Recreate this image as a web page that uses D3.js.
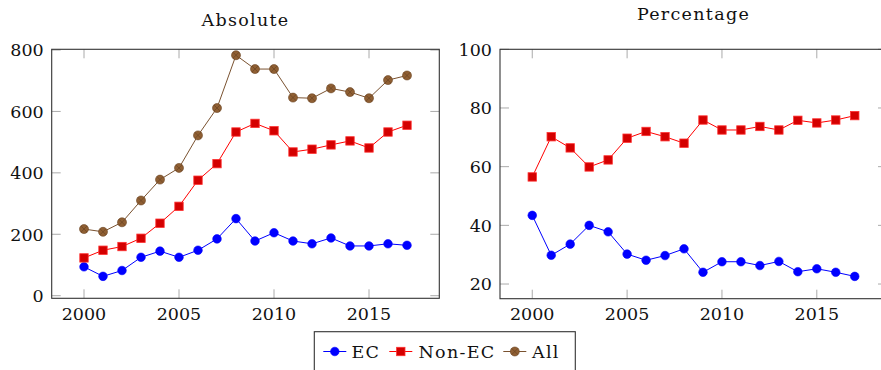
<!DOCTYPE html>
<html>
<head>
<meta charset="utf-8">
<script src="https://cdn.jsdelivr.net/npm/d3@7"></script>
<style>
  body { margin: 0; background: #fff; }
  svg text { font-family: "DejaVu Serif", serif; fill: #111; }
  svg text.word { letter-spacing: 1.3px; }
</style>
</head>
<body>
<div id="chart"></div>
<script>
// data
const years = d3.range(2000, 2018);
const ecAbs = [94, 63, 82, 125, 145, 125, 148, 185, 251, 178, 205, 178, 169, 188, 162, 162, 169, 164];
const nonEcAbs = [123, 148, 160, 187, 236, 291, 376, 430, 533, 561, 537, 468, 477, 491, 504, 481, 533, 555];
const allAbs = [217, 208, 239, 310, 378, 416, 522, 611, 783, 738, 738, 645, 643, 675, 663, 643, 702, 717];
const ecPct = [43.4, 29.8, 33.6, 40.0, 37.8, 30.2, 28.1, 29.7, 32.0, 24.0, 27.6, 27.6, 26.3, 27.7, 24.2, 25.2, 24.0, 22.6];
const nonEcPct = [56.5, 70.2, 66.4, 59.9, 62.3, 69.7, 72.0, 70.2, 68.0, 75.9, 72.5, 72.5, 73.7, 72.5, 75.8, 74.9, 75.9, 77.4];
const xTicks = [2000, 2005, 2010, 2015];
const absTicks = [0, 200, 400, 600, 800];
const pctTicks = [20, 40, 60, 80, 100];

const styles = {
  ec: { line: "#0000ff", fill: "#0000ff", stroke: "#0000ff", mark: "circle" },
  nonEc: { line: "#ff0000", fill: "#d40000", stroke: "#ff3030", mark: "square" },
  all: { line: "#7a5230", fill: "#8f5f33", stroke: "#6a4322", mark: "otimes" }
};

const svg = d3.select("#chart").append("svg")
  .attr("width", 881).attr("height", 370);

function drawMark(g, type, st, x, y) {
  if (type === "circle") {
    g.append("circle").attr("cx", x).attr("cy", y).attr("r", 4.3)
      .attr("fill", st.fill).attr("stroke", st.stroke).attr("stroke-width", 0.6);
  } else if (type === "square") {
    g.append("rect").attr("x", x - 4.2).attr("y", y - 4.2).attr("width", 8.4).attr("height", 8.4)
      .attr("fill", st.fill).attr("stroke", st.stroke).attr("stroke-width", 0.8);
  } else {
    g.append("circle").attr("cx", x).attr("cy", y).attr("r", 4.5)
      .attr("fill", st.fill).attr("stroke", st.stroke).attr("stroke-width", 0.6);
    const d = 3.1;
    g.append("path")
      .attr("d", `M${x - d},${y - d}L${x + d},${y + d}M${x - d},${y + d}L${x + d},${y - d}`)
      .attr("stroke", st.stroke).attr("stroke-width", 0.7);
  }
}

function panel(opts) {
  const x = d3.scaleLinear().domain([1998.3, 2018.7]).range([opts.left, opts.right]);
  const y = d3.scaleLinear().domain(opts.yDomain).range([opts.bottom, opts.top]);
  const g = svg.append("g");

  // ticks (inward, on all four sides)
  const tickLen = 9;
  xTicks.forEach(t => {
    g.append("line").attr("x1", x(t)).attr("x2", x(t)).attr("y1", opts.bottom).attr("y2", opts.bottom - tickLen)
      .attr("stroke", "#aaa").attr("stroke-width", 1);
    g.append("line").attr("x1", x(t)).attr("x2", x(t)).attr("y1", opts.top).attr("y2", opts.top + tickLen)
      .attr("stroke", "#aaa").attr("stroke-width", 1);
    g.append("text").attr("x", x(t)).attr("y", 320).attr("text-anchor", "middle")
      .attr("font-size", 17.5).text(t);
  });
  opts.yTicks.forEach(t => {
    g.append("line").attr("x1", opts.left).attr("x2", opts.left + tickLen).attr("y1", y(t)).attr("y2", y(t))
      .attr("stroke", "#aaa").attr("stroke-width", 1);
    g.append("line").attr("x1", opts.right).attr("x2", opts.right - tickLen).attr("y1", y(t)).attr("y2", y(t))
      .attr("stroke", "#aaa").attr("stroke-width", 1);
    g.append("text").attr("x", opts.left - 8).attr("y", y(t)).attr("dy", "0.36em")
      .attr("text-anchor", "end").attr("font-size", 17.5).text(t);
  });

  g.append("rect").attr("x", opts.left).attr("y", opts.top)
    .attr("width", opts.right - opts.left).attr("height", opts.bottom - opts.top)
    .attr("fill", "none").attr("stroke", "#333").attr("stroke-width", 1.1);

  g.append("text").attr("class", "word").attr("x", (opts.left + opts.right) / 2).attr("y", opts.titleY)
    .attr("text-anchor", "middle").attr("font-size", 17.5).text(opts.title);

  const line = d3.line().x((d, i) => x(years[i])).y(d => y(d));
  opts.series.forEach(s => {
    const st = styles[s.key];
    g.append("path").datum(s.values).attr("d", line)
      .attr("fill", "none").attr("stroke", st.line).attr("stroke-width", 1);
    s.values.forEach((v, i) => drawMark(g, st.mark, st, x(years[i]), y(v)));
  });
}

panel({
  left: 51.7, right: 439.3, top: 49.3, bottom: 298.3,
  yDomain: [-8.5, 802.3], yTicks: absTicks, title: "Absolute", titleY: 26,
  series: [
    { key: "ec", values: ecAbs },
    { key: "nonEc", values: nonEcAbs },
    { key: "all", values: allAbs }
  ]
});

panel({
  left: 500, right: 887, top: 49.3, bottom: 298.7,
  yDomain: [15, 100], yTicks: pctTicks, title: "Percentage", titleY: 20,
  series: [
    { key: "ec", values: ecPct },
    { key: "nonEc", values: nonEcPct }
  ]
});

// legend
const legend = svg.append("g");
legend.append("rect").attr("x", 314.3).attr("y", 331.7).attr("width", 261).attr("height", 50)
  .attr("fill", "#fff").attr("stroke", "#333").attr("stroke-width", 1.1);
const legendItems = [
  { key: "ec", label: "EC", x0: 323.3, tx: 351.5 },
  { key: "nonEc", label: "Non-EC", x0: 389.3, tx: 418.5 },
  { key: "all", label: "All", x0: 503.3, tx: 532 }
];
const ly = 351.5;
legendItems.forEach(it => {
  const st = styles[it.key];
  legend.append("line").attr("x1", it.x0).attr("x2", it.x0 + 23).attr("y1", ly).attr("y2", ly)
    .attr("stroke", st.line).attr("stroke-width", 1);
  drawMark(legend, st.mark, st, it.x0 + 11.5, ly);
  legend.append("text").attr("class", "word").attr("x", it.tx).attr("y", ly).attr("dy", "0.36em")
    .attr("font-size", 17.5).text(it.label);
});
</script>
</body>
</html>
